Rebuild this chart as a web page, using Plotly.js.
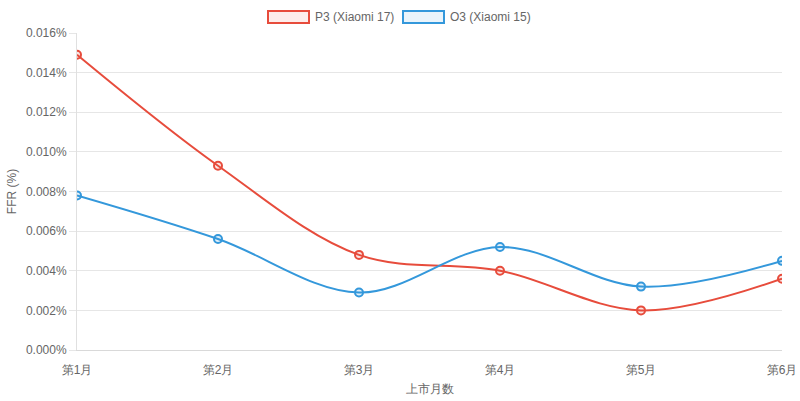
<!DOCTYPE html>
<html>
<head>
<meta charset="utf-8">
<script src="https://cdn.plot.ly/plotly-3.0.1.min.js"></script>
<style>
  html, body { margin: 0; padding: 0; background: #fff; }
  #chart { width: 800px; height: 401px; }
</style>
</head>
<body>
<div id="chart"></div>
<script>
/* ─── Data ─────────────────────────────────────────────────────────────── */
const months = ["第1月", "第2月", "第3月", "第4月", "第5月", "第6月"];
const ffrP3 = [0.0149, 0.0093, 0.0048, 0.0040, 0.0020, 0.0036];
const ffrO3 = [0.0078, 0.0056, 0.0029, 0.0052, 0.0032, 0.0045];
const seriesNames = ["P3 (Xiaomi 17)", "O3 (Xiaomi 15)"];

const RED = "#e74c3c", BLUE = "#3498db";
const FONT = "Liberation Sans, Arial, sans-serif";

function lineTrace(name, y, color, fill) {
  return {
    type: "scatter", mode: "lines+markers", name, x: months, y,
    line: { color, width: 2, shape: "spline", smoothing: 1 },
    marker: { size: 8, color: fill, line: { color, width: 2 } },
    hoverinfo: "x+y+name"
  };
}

const data = [
  lineTrace(seriesNames[0], ffrP3, RED, "rgba(231,76,60,0.15)"),
  lineTrace(seriesNames[1], ffrO3, BLUE, "rgba(52,152,219,0.15)")
];

// legend drawn by hand so the swatches are boxes like the original
// plot area spans pixels x 77..782, y 33..350
const px = x => (x - 77) / 705;
const py = y => (350 - y) / 317;
const legendBox = (x0, color, fill) => ({
  type: "rect", xref: "paper", yref: "paper",
  x0: px(x0), x1: px(x0 + 41), y0: py(23), y1: py(11),
  line: { color, width: 2 }, fillcolor: fill
});
const legendText = (x, text) => ({
  xref: "paper", yref: "paper", x: px(x), y: py(17),
  xanchor: "left", yanchor: "middle", showarrow: false, text,
  font: { family: FONT, size: 12, color: "#666" }
});

const layout = {
  width: 800, height: 401,
  margin: { l: 77, r: 18, t: 33, b: 51 },
  paper_bgcolor: "#fff", plot_bgcolor: "#fff",
  font: { family: FONT, size: 12, color: "#666" },
  showlegend: false,
  xaxis: {
    type: "category", categoryarray: months, range: [0, 5],
    showgrid: false, showline: true, linecolor: "#d9d9d9", linewidth: 1,
    ticks: "", ticklabelstandoff: 9, tickfont: { size: 12, color: "#666" },
    title: { text: "上市月数", font: { size: 12, color: "#666" }, standoff: 8 },
    zeroline: false, fixedrange: true
  },
  yaxis: {
    range: [0, 0.016], dtick: 0.002, tickformat: ".3f", ticksuffix: "%",
    showgrid: true, gridcolor: "#e6e6e6", gridwidth: 1,
    showline: true, linecolor: "#e0e0e0", linewidth: 1,
    ticks: "outside", ticklen: 7, tickcolor: "#e6e6e6",
    tickfont: { size: 12, color: "#666" },
    title: { text: "FFR (%)", font: { size: 12, color: "#666" }, standoff: 6 },
    zeroline: false, fixedrange: true
  },
  shapes: [
    legendBox(268, RED, "rgba(231,76,60,0.1)"),
    legendBox(403, BLUE, "rgba(52,152,219,0.1)")
  ],
  annotations: [
    legendText(313, seriesNames[0]),
    legendText(448, seriesNames[1])
  ]
};

Plotly.newPlot("chart", data, layout, { displayModeBar: false, responsive: false });
</script>
</body>
</html>
